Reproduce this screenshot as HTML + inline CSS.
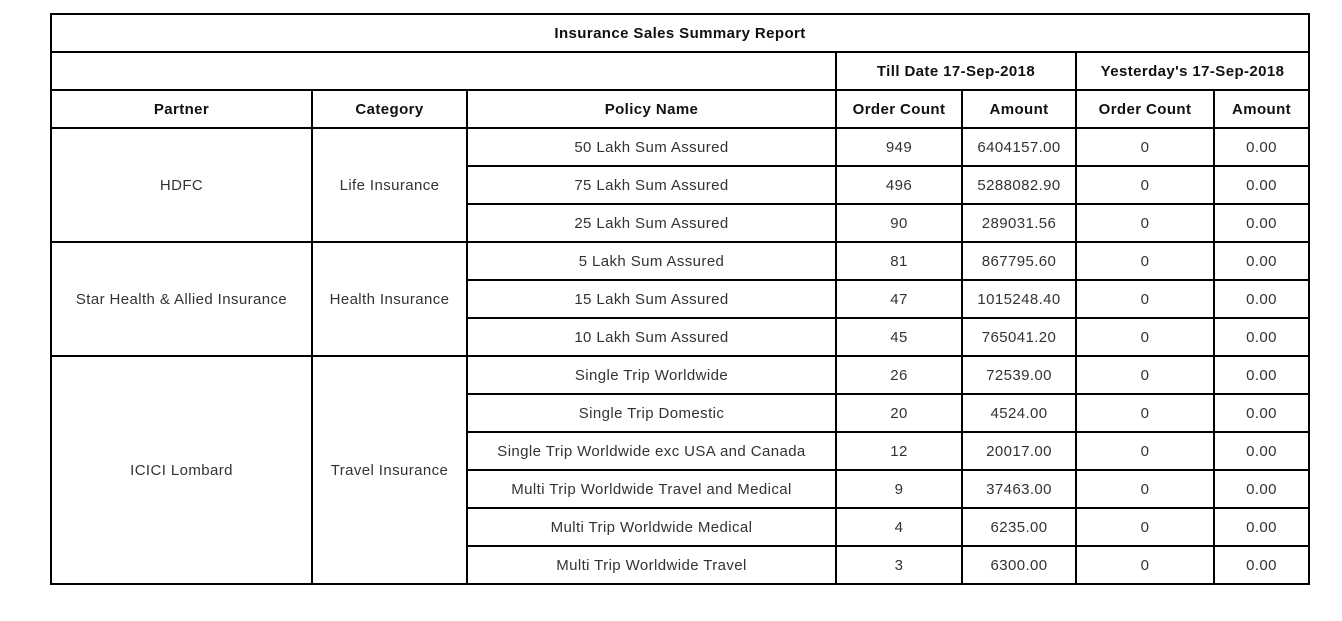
<!DOCTYPE html>
<html><head><meta charset="utf-8"><style>
body{margin:0;background:#fff;width:1342px;height:621px;overflow:hidden}
table{position:absolute;left:50px;top:13px;border-collapse:collapse;table-layout:fixed;width:1258px;font-family:"Liberation Sans",sans-serif;font-size:15px;letter-spacing:0.4px;color:#222}
td,th{border:2px solid #000;text-align:center;padding:0;height:36px;box-sizing:border-box}
th{font-weight:bold;color:#111}
td{color:#333}
</style></head><body>
<table>
<colgroup><col style="width:261px"><col style="width:155px"><col style="width:369px"><col style="width:126px"><col style="width:114px"><col style="width:138px"><col style="width:95px"></colgroup>
<tr style="height:38px"><th colspan="7">Insurance Sales Summary Report</th></tr>
<tr style="height:38px"><th colspan="3"></th><th colspan="2">Till Date 17-Sep-2018</th><th colspan="2">Yesterday's 17-Sep-2018</th></tr>
<tr style="height:38px"><th>Partner</th><th>Category</th><th>Policy Name</th><th>Order Count</th><th>Amount</th><th>Order Count</th><th>Amount</th></tr>
<tr style="height:38px"><td rowspan="3">HDFC</td><td rowspan="3">Life Insurance</td><td>50 Lakh Sum Assured</td><td>949</td><td>6404157.00</td><td>0</td><td>0.00</td></tr>
<tr style="height:38px"><td>75 Lakh Sum Assured</td><td>496</td><td>5288082.90</td><td>0</td><td>0.00</td></tr>
<tr style="height:38px"><td>25 Lakh Sum Assured</td><td>90</td><td>289031.56</td><td>0</td><td>0.00</td></tr>
<tr style="height:38px"><td rowspan="3">Star Health &amp; Allied Insurance</td><td rowspan="3">Health Insurance</td><td>5 Lakh Sum Assured</td><td>81</td><td>867795.60</td><td>0</td><td>0.00</td></tr>
<tr style="height:38px"><td>15 Lakh Sum Assured</td><td>47</td><td>1015248.40</td><td>0</td><td>0.00</td></tr>
<tr style="height:38px"><td>10 Lakh Sum Assured</td><td>45</td><td>765041.20</td><td>0</td><td>0.00</td></tr>
<tr style="height:38px"><td rowspan="6">ICICI Lombard</td><td rowspan="6">Travel Insurance</td><td>Single Trip Worldwide</td><td>26</td><td>72539.00</td><td>0</td><td>0.00</td></tr>
<tr style="height:38px"><td>Single Trip Domestic</td><td>20</td><td>4524.00</td><td>0</td><td>0.00</td></tr>
<tr style="height:38px"><td>Single Trip Worldwide exc USA and Canada</td><td>12</td><td>20017.00</td><td>0</td><td>0.00</td></tr>
<tr style="height:38px"><td>Multi Trip Worldwide Travel and Medical</td><td>9</td><td>37463.00</td><td>0</td><td>0.00</td></tr>
<tr style="height:38px"><td>Multi Trip Worldwide Medical</td><td>4</td><td>6235.00</td><td>0</td><td>0.00</td></tr>
<tr style="height:38px"><td>Multi Trip Worldwide Travel</td><td>3</td><td>6300.00</td><td>0</td><td>0.00</td></tr>
</table>
</body></html>
